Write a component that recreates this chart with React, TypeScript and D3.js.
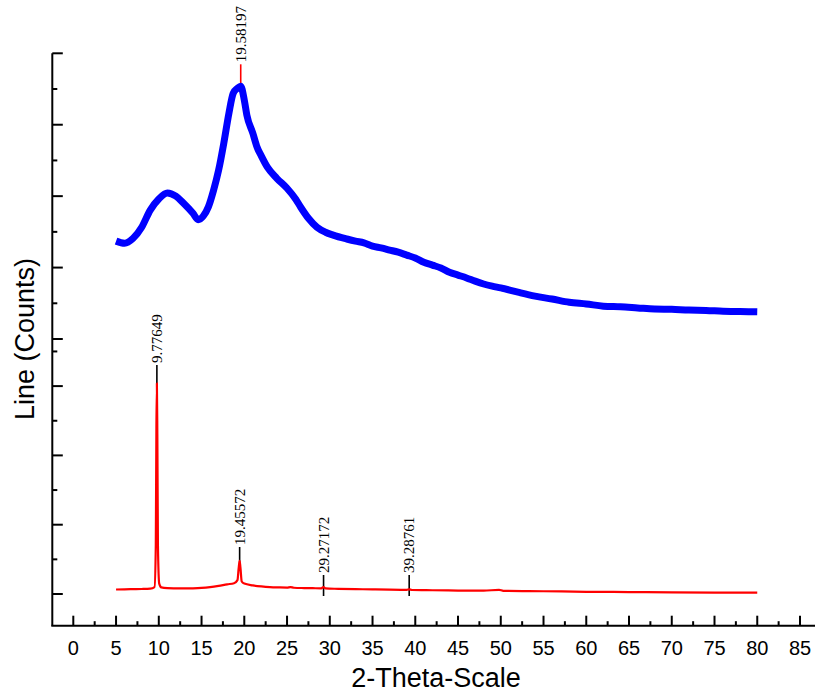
import React from 'react';
import * as d3 from 'd3';

// Blue (upper) pattern: 2θ and counts
const blueAngles = [5, 6, 7, 8, 9, 10, 11, 12, 12.9, 14, 14.6, 15.2, 15.8, 16.4, 17, 17.6, 18.2, 18.7, 19.2, 19.58, 20, 20.3, 21, 21.5, 22, 22.7, 23.8, 25, 26, 26.6, 27.5, 28.5, 29.5, 30.4, 32, 33, 34, 35, 36, 37, 38, 39, 40, 41, 42, 43, 44, 45, 46, 47, 48, 49, 50, 52, 54, 56, 58, 60, 62, 64, 66, 68, 70, 72, 74, 76, 78, 80];
const blueCounts = [1370, 1340, 1410, 1565, 1805, 1960, 2045, 2000, 1900, 1760, 1670, 1720, 1850, 2080, 2365, 2740, 3160, 3440, 3510, 3540, 3345, 3135, 2880, 2685, 2560, 2405, 2250, 2110, 1960, 1845, 1690, 1565, 1495, 1455, 1400, 1370, 1345, 1300, 1275, 1245, 1215, 1175, 1135, 1075, 1035, 995, 935, 895, 855, 810, 770, 740, 715, 655, 600, 560, 515, 490, 460, 450, 435, 420, 415, 405, 400, 390, 385, 380];

// Red (lower) pattern: 2θ and counts
const redAngles = [5, 6, 7, 8, 9, 9.5, 9.65, 9.72, 9.77649, 9.83, 9.9, 10.05, 10.3, 11, 12, 13, 14, 15, 16, 17, 18, 18.8, 19.2, 19.35, 19.45572, 19.55, 19.7, 20, 21, 22, 23, 24, 25, 25.4, 25.8, 27, 28, 29, 29.27, 29.5, 31, 33, 35, 37, 39, 39.29, 39.6, 42, 45, 48, 49.8, 50.3, 55, 60, 65, 70, 75, 80];
const redCounts = [65, 68, 70, 72, 78, 100, 700, 2400, 3040, 2300, 700, 150, 95, 85, 82, 80, 82, 88, 100, 118, 140, 155, 200, 380, 480, 380, 180, 150, 125, 110, 100, 95, 92, 100, 90, 86, 84, 82, 100, 80, 75, 70, 66, 62, 60, 68, 58, 54, 50, 48, 60, 46, 40, 32, 28, 24, 21, 19];

// Peak labels
const bluePeakAngles = [19.58197];
const bluePeakCounts = [3580];
const bluePeakTexts = ['19.58197'];
const redPeakAngles = [9.77649, 19.45572, 29.27172, 39.28761];
const redPeakCounts = [3030, 404, 0, 0];
const redPeakTexts = ['9.77649', '19.45572', '29.27172', '39.28761'];

// Axis ticks
const xTickValues = [0, 5, 10, 15, 20, 25, 30, 35, 40, 45, 50, 55, 60, 65, 70, 75, 80, 85];
const xMinorValues = [2.5, 7.5, 12.5, 17.5, 22.5, 27.5, 32.5, 37.5, 42.5, 47.5, 52.5, 57.5, 62.5, 67.5, 72.5, 77.5, 82.5];
const blueMajorTicks = [0, 1000, 2000, 3000, 4000];
const blueMinorTicks = [500, 1500, 2500, 3500];
const redMajorTicks = [0, 1000, 2000, 3000];
const redMinorTicks = [500, 1500, 2500, 3500];

const xTitle = '2-Theta-Scale';
const yTitle = 'Line (Counts)';

export default function App() {
  const W = 815;
  const H = 694;
  const axisX = 52.3;
  const axisY = 625.7;
  const axisTop = 53.3;

  const x = d3.scaleLinear().domain([0, 85]).range([73.3, 800]);
  const yBlue = d3.scaleLinear().domain([0, 4000]).range([339, 53.3]);
  const yRed = d3.scaleLinear().domain([0, 1000]).range([594, 524.7]);

  const blueLine = d3
    .line<number>()
    .x((_, i) => x(blueAngles[i]))
    .y((d) => yBlue(d))
    .curve(d3.curveMonotoneX);
  const redLine = d3
    .line<number>()
    .x((_, i) => x(redAngles[i]))
    .y((d) => yRed(d))
    .curve(d3.curveMonotoneX);

  const sans = "Arial, 'Liberation Sans', sans-serif";
  const serif = "'Times New Roman', 'Liberation Serif', serif";

  const marker = (
    angle: number,
    y0: number,
    text: string,
    color: string,
    key: string
  ) => {
    const mx = x(angle);
    const top = y0 - 19;
    return (
      <g key={key}>
        <line x1={mx} x2={mx} y1={top} y2={y0 + 2} stroke={color} strokeWidth={1.6} />
        <text
          transform={`translate(${mx},${top - 2}) rotate(-90)`}
          dy="0.35em"
          fontFamily={serif}
          fontSize={15}
          fill="#000"
        >
          {text}
        </text>
      </g>
    );
  };

  return (
    <svg
      width={W}
      height={H}
      style={{ position: 'absolute', left: 0, top: 0, display: 'block', background: '#fff' }}
    >
      <rect width={W} height={H} fill="#fff" />

      {redPeakAngles.map((a, i) => marker(a, yRed(redPeakCounts[i]), redPeakTexts[i], '#000', 'r' + i))}

      <path d={redLine(redCounts) || ''} fill="none" stroke="#ff0000" strokeWidth={2.2} strokeLinejoin="round" />

      {bluePeakAngles.map((a, i) => marker(a, yBlue(bluePeakCounts[i]), bluePeakTexts[i], '#ff0000', 'b' + i))}

      <path d={blueLine(blueCounts) || ''} fill="none" stroke="#0000ff" strokeWidth={7} strokeLinejoin="round" strokeLinecap="butt" />

      {/* axes */}
      <line x1={axisX} x2={axisX} y1={axisTop} y2={axisY} stroke="#000" strokeWidth={2} />
      <line x1={axisX - 1} x2={W} y1={axisY} y2={axisY} stroke="#000" strokeWidth={2} />

      {blueMajorTicks.map((t) => (
        <line key={'bM' + t} x1={axisX} x2={axisX + 10.5} y1={yBlue(t)} y2={yBlue(t)} stroke="#000" strokeWidth={2} />
      ))}
      {blueMinorTicks.map((t) => (
        <line key={'bm' + t} x1={axisX} x2={axisX + 5} y1={yBlue(t)} y2={yBlue(t)} stroke="#000" strokeWidth={2} />
      ))}
      {redMajorTicks.map((t) => (
        <line key={'rM' + t} x1={axisX} x2={axisX + 10.5} y1={yRed(t)} y2={yRed(t)} stroke="#000" strokeWidth={2} />
      ))}
      {redMinorTicks.map((t) => (
        <line key={'rm' + t} x1={axisX} x2={axisX + 5} y1={yRed(t)} y2={yRed(t)} stroke="#000" strokeWidth={2} />
      ))}

      {xTickValues.map((t) => (
        <g key={'x' + t}>
          <line x1={x(t)} x2={x(t)} y1={axisY} y2={axisY - 10} stroke="#000" strokeWidth={2} />
          <text x={x(t)} y={655} textAnchor="middle" fontFamily={sans} fontSize={20} fill="#000">
            {String(t)}
          </text>
        </g>
      ))}
      {xMinorValues.map((t) => (
        <line key={'xm' + t} x1={x(t)} x2={x(t)} y1={axisY} y2={axisY - 4.5} stroke="#000" strokeWidth={2} />
      ))}

      <text x={436} y={687} textAnchor="middle" fontFamily={sans} fontSize={27} fill="#000">
        {xTitle}
      </text>
      <text
        transform={`translate(33.5,339) rotate(-90)`}
        textAnchor="middle"
        fontFamily={sans}
        fontSize={27}
        fill="#000"
      >
        {yTitle}
      </text>
    </svg>
  );
}
